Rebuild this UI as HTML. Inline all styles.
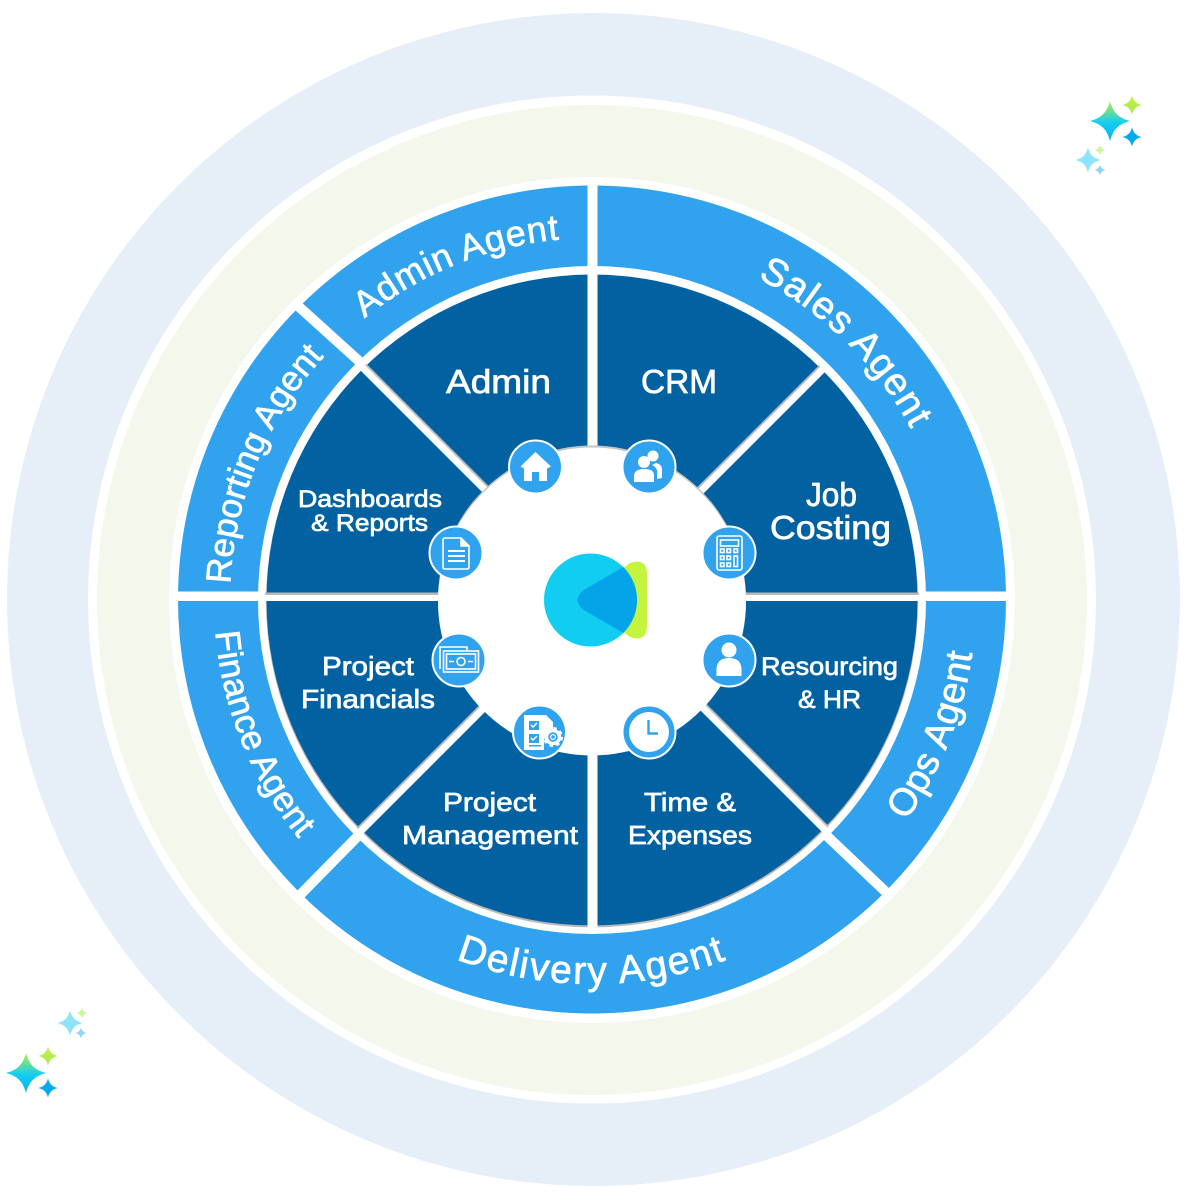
<!DOCTYPE html>
<html><head><meta charset="utf-8"><style>
html,body{margin:0;padding:0;background:#fff}
svg{display:block}
text{font-family:"Liberation Sans",sans-serif;fill:#fff;stroke:#fff;stroke-width:.7px}
.a{font-size:36px;text-anchor:middle}
.i{stroke:#fff;fill:none;stroke-width:1.6}
.f{fill:#fff;stroke:none}
</style></head><body>
<svg width="1185" height="1200" viewBox="0 0 1185 1200" xmlns="http://www.w3.org/2000/svg">
<defs>
<linearGradient id="g1" x1="0" y1="0" x2="0" y2="1"><stop offset="0" stop-color="#b5ef45"/><stop offset=".55" stop-color="#12cdf2"/><stop offset="1" stop-color="#08b4ee"/></linearGradient>
<linearGradient id="g2" x1="0" y1="0" x2="0" y2="1"><stop offset="0" stop-color="#c6f23c"/><stop offset="1" stop-color="#a5e85a"/></linearGradient>
<path id="s" d="M0-1C.16-.42.42-.16 1 0 .42.16.16.42 0 1-.16.42-.42.16-1 0-.42-.16-.16-.42 0-1Z"/>
<path id="top362" d="M230 600A362 362 0 0 1 954 600"/>
<path id="bot378" d="M214 600A378 378 0 0 0 970 600"/>
<path id="bot384" d="M208 600A384 384 0 0 0 976 600"/>
<clipPath id="logoc"><circle cx="590.5" cy="600" r="46.5"/></clipPath>
<clipPath id="disc"><circle cx="592" cy="600.500" r="327"/></clipPath>
</defs>

<circle cx="593.5" cy="599.5" r="586.5" fill="#e6eff7"/>
<circle cx="592" cy="599.5" r="504" fill="#fff"/>
<circle cx="592" cy="600" r="495" fill="#f3f7ec"/>
<circle cx="592" cy="600" r="423" fill="#fff"/>

<circle cx="592" cy="599.5" r="414" fill="#31a3ee"/>
<g stroke="#fff" fill="none">
<rect x="587.5" y="180" width="10" height="180" fill="#fff" stroke="none"/>
<rect x="170" y="591.5" width="100" height="9.5" fill="#fff" stroke="none"/>
<rect x="915" y="591.5" width="100" height="9.5" fill="#fff" stroke="none"/>
<path d="M297 305L360 362M300 895L358 836M827 836L889 895" stroke-width="10"/>
</g>
<circle cx="592" cy="600" r="334" fill="#fff"/>
<circle cx="592" cy="601.5" r="326" fill="#b9b9b9"/>
<circle cx="592" cy="600" r="325.5" fill="#0262a1"/>

<g clip-path="url(#disc)">
<path d="M358 363L828 833M829 363L358 834" stroke="#b9b9b9" stroke-width="8" transform="translate(0,-2)"/>
<path d="M358 363L828 833M829 363L358 834" stroke="#fff" stroke-width="7"/>
<rect x="260" y="592.5" width="665" height="3" fill="#b9b9b9"/>
<rect x="260" y="595" width="665" height="6" fill="#fff"/>
<rect x="587.5" y="265" width="10" height="665" fill="#fff"/>
</g>

<circle cx="592" cy="599.500" r="154" fill="#c4c4c4"/>
<circle cx="592" cy="601.500" r="154" fill="#fff"/>

<!-- logo -->
<path d="M623 568L630 563Q647 557 647 575V625Q647 643 630 637L623 632Z" fill="#c4f53e"/>
<circle cx="590.5" cy="600" r="46.5" fill="#12cdf2"/>
<path d="M584 590L625 566H650V634H625L584 610Q571 600 584 590Z" fill="#05a3e8" clip-path="url(#logoc)"/>

<!-- arc labels -->
<g class="labels">
<text class="a" letter-spacing="0.9" transform="rotate(-22 592 600)"><textPath href="#top362" startOffset="50%">Admin Agent</textPath></text>
<text class="a" style="font-size:38.500px" letter-spacing="1.3" transform="rotate(44.6 592 600)"><textPath href="#top362" startOffset="50%">Sales Agent</textPath></text>
<text class="a" style="font-size:35px" letter-spacing="0" transform="rotate(-67.6 592 600)"><textPath href="#top362" startOffset="50%">Reporting Agent</textPath></text>
<text class="a" style="font-size:39px" letter-spacing="1.900" transform="rotate(0 592 600)"><textPath href="#bot384" startOffset="50%">Delivery Agent</textPath></text>
<text class="a" style="font-size:35px" letter-spacing="0.2" transform="rotate(68 592 600)"><textPath href="#bot378" startOffset="50%">Finance Agent</textPath></text>
<text class="a" style="font-size:38px" letter-spacing="0.6" transform="rotate(-68.5 592 600)"><textPath href="#bot384" startOffset="50%">Ops Agent</textPath></text>
</g>

<!-- inner labels -->
<g>
<text x="446" y="393" font-size="33" textLength="105" lengthAdjust="spacingAndGlyphs">Admin</text>
<text x="641" y="393" font-size="33" textLength="76" lengthAdjust="spacingAndGlyphs">CRM</text>
<text x="806" y="506" font-size="33" textLength="51" lengthAdjust="spacingAndGlyphs">Job</text>
<text x="770" y="539" font-size="33" textLength="121" lengthAdjust="spacingAndGlyphs">Costing</text>
<text x="298" y="507" font-size="24" textLength="144" lengthAdjust="spacingAndGlyphs">Dashboards</text>
<text x="311" y="531" font-size="24" textLength="117" lengthAdjust="spacingAndGlyphs">&amp; Reports</text>
<text x="322" y="675" font-size="26" textLength="92" lengthAdjust="spacingAndGlyphs">Project</text>
<text x="301" y="708" font-size="26" textLength="134" lengthAdjust="spacingAndGlyphs">Financials</text>
<text x="761" y="675" font-size="25" textLength="137" lengthAdjust="spacingAndGlyphs">Resourcing</text>
<text x="798" y="708" font-size="25" textLength="63" lengthAdjust="spacingAndGlyphs">&amp; HR</text>
<text x="443" y="811" font-size="26" textLength="93" lengthAdjust="spacingAndGlyphs">Project</text>
<text x="402" y="844" font-size="26" textLength="176" lengthAdjust="spacingAndGlyphs">Management</text>
<text x="644" y="811" font-size="26" textLength="92" lengthAdjust="spacingAndGlyphs">Time &amp;</text>
<text x="628" y="844" font-size="26" textLength="124" lengthAdjust="spacingAndGlyphs">Expenses</text>
</g>

<!-- icon discs -->
<g fill="#31a3ee" stroke="#fff" stroke-width="2">
<circle cx="535.500" cy="467" r="26.5"/>
<circle cx="649" cy="467" r="26.5"/>
<circle cx="729" cy="553" r="26.5"/>
<circle cx="729" cy="660" r="26.5"/>
<circle cx="649" cy="732" r="26.5"/>
<circle cx="539.500" cy="732" r="26.5"/>
<circle cx="459" cy="660" r="26.5"/>
<circle cx="456" cy="553" r="26.5"/>
</g>

<!-- home -->
<path class="f" d="M535.500 452L520.500 466.500L524 468.500V481H532V472H539V481H547V468.500L551 466.500Z"/>
<!-- people -->
<circle class="f" cx="653" cy="456" r="5.5"/>
<path class="f" d="M656 463Q662 464 662 470V478L657 479V470Q655 466 652 465Z"/>
<circle class="f" cx="644" cy="462" r="6"/>
<path class="f" d="M634 482V475Q635 469 644 469Q654 469 654 475V482Z"/>
<!-- calculator -->
<g class="i" stroke-width="1.300">
<rect x="717" y="536" width="25" height="34" rx="2"/>
<rect x="720.500" y="540" width="18" height="6"/>
<rect x="720.500" y="549" width="3.5" height="3.5"/><rect x="727" y="549" width="3.5" height="3.5"/><rect x="734" y="549" width="3.5" height="3.5"/>
<rect x="720.500" y="556" width="3.5" height="3.5"/><rect x="727" y="556" width="3.5" height="3.5"/>
<rect x="720.500" y="563" width="3.5" height="3.5"/><rect x="727" y="563" width="3.5" height="3.5"/>
<rect x="734" y="556" width="3.5" height="10.5"/>
</g>
<!-- person -->
<circle class="f" cx="729" cy="650" r="7.5"/>
<path class="f" d="M716.500 676V669Q717 658 729 658Q741 658 741.500 669V676Z"/>
<!-- clock -->
<circle cx="649" cy="732" r="20" fill="#fff"/>
<path d="M648.500 720V733.500H658" fill="none" stroke="#31a3ee" stroke-width="2.400"/>
<!-- project mgmt -->
<path class="f" d="M524 715H546L553 722V731H549Q544 735 544 745V750H524Z"/>
<g fill="#31a3ee">
<rect x="529" y="721" width="10" height="9"/>
<rect x="529" y="734" width="10" height="9"/>
<rect x="529" y="745" width="12" height="1.500"/>
</g>
<path d="M531 725l2 2 4-4M531 738l2 2 4-4" fill="none" stroke="#fff" stroke-width="1.400"/>
<circle cx="553" cy="737" r="6.500" fill="#31a3ee" stroke="#fff" stroke-width="3.500"/>
<circle cx="553" cy="737" r="9" fill="none" stroke="#fff" stroke-width="2" stroke-dasharray="3.500 3.570"/>
<circle cx="553" cy="737" r="2.400" fill="#31a3ee" stroke="#fff" stroke-width="1.200"/>
<!-- money -->
<g class="i" stroke-width="1.400">
<path d="M440 669V647H467V650"/>
<rect x="443.500" y="651" width="35" height="21"/>
<rect x="446.500" y="654" width="29" height="15"/>
<circle cx="461" cy="661.500" r="4"/>
<path d="M449 661.500H454M468 661.500H473"/>
</g>
<!-- document -->
<g class="i">
<path d="M445 538H461L469 546V567Q469 569 467 569H445Q443 569 443 567V540Q443 538 445 538Z"/>
<path d="M461 538V546H469" fill="#fff"/>
<path d="M448 551H465M448 556H465M448 561H465" stroke-width="2"/>
</g>

<!-- sparkles -->
<g>
<use href="#s" transform="translate(1110 121) scale(20)" fill="url(#g1)"/>
<use href="#s" transform="translate(1132 105) scale(9.500)" fill="url(#g2)"/>
<use href="#s" transform="translate(1132 137) scale(9.500)" fill="#08a8ec"/>
<use href="#s" transform="translate(1088 160) scale(12.500)" fill="#8fe3f8"/>
<use href="#s" transform="translate(1100 150) scale(5.500)" fill="#cdf59a"/>
<use href="#s" transform="translate(1100 170) scale(5.500)" fill="#8fd4f5"/>
<use href="#s" transform="translate(26 1073) scale(20)" fill="url(#g1)"/>
<use href="#s" transform="translate(48 1056) scale(9.500)" fill="url(#g2)"/>
<use href="#s" transform="translate(48 1088) scale(9.500)" fill="#08a8ec"/>
<use href="#s" transform="translate(70 1023) scale(12.500)" fill="#8fe3f8"/>
<use href="#s" transform="translate(82 1013) scale(5.500)" fill="#cdf59a"/>
<use href="#s" transform="translate(81 1033) scale(5.500)" fill="#8fd4f5"/>
</g>
</svg>
</body></html>
